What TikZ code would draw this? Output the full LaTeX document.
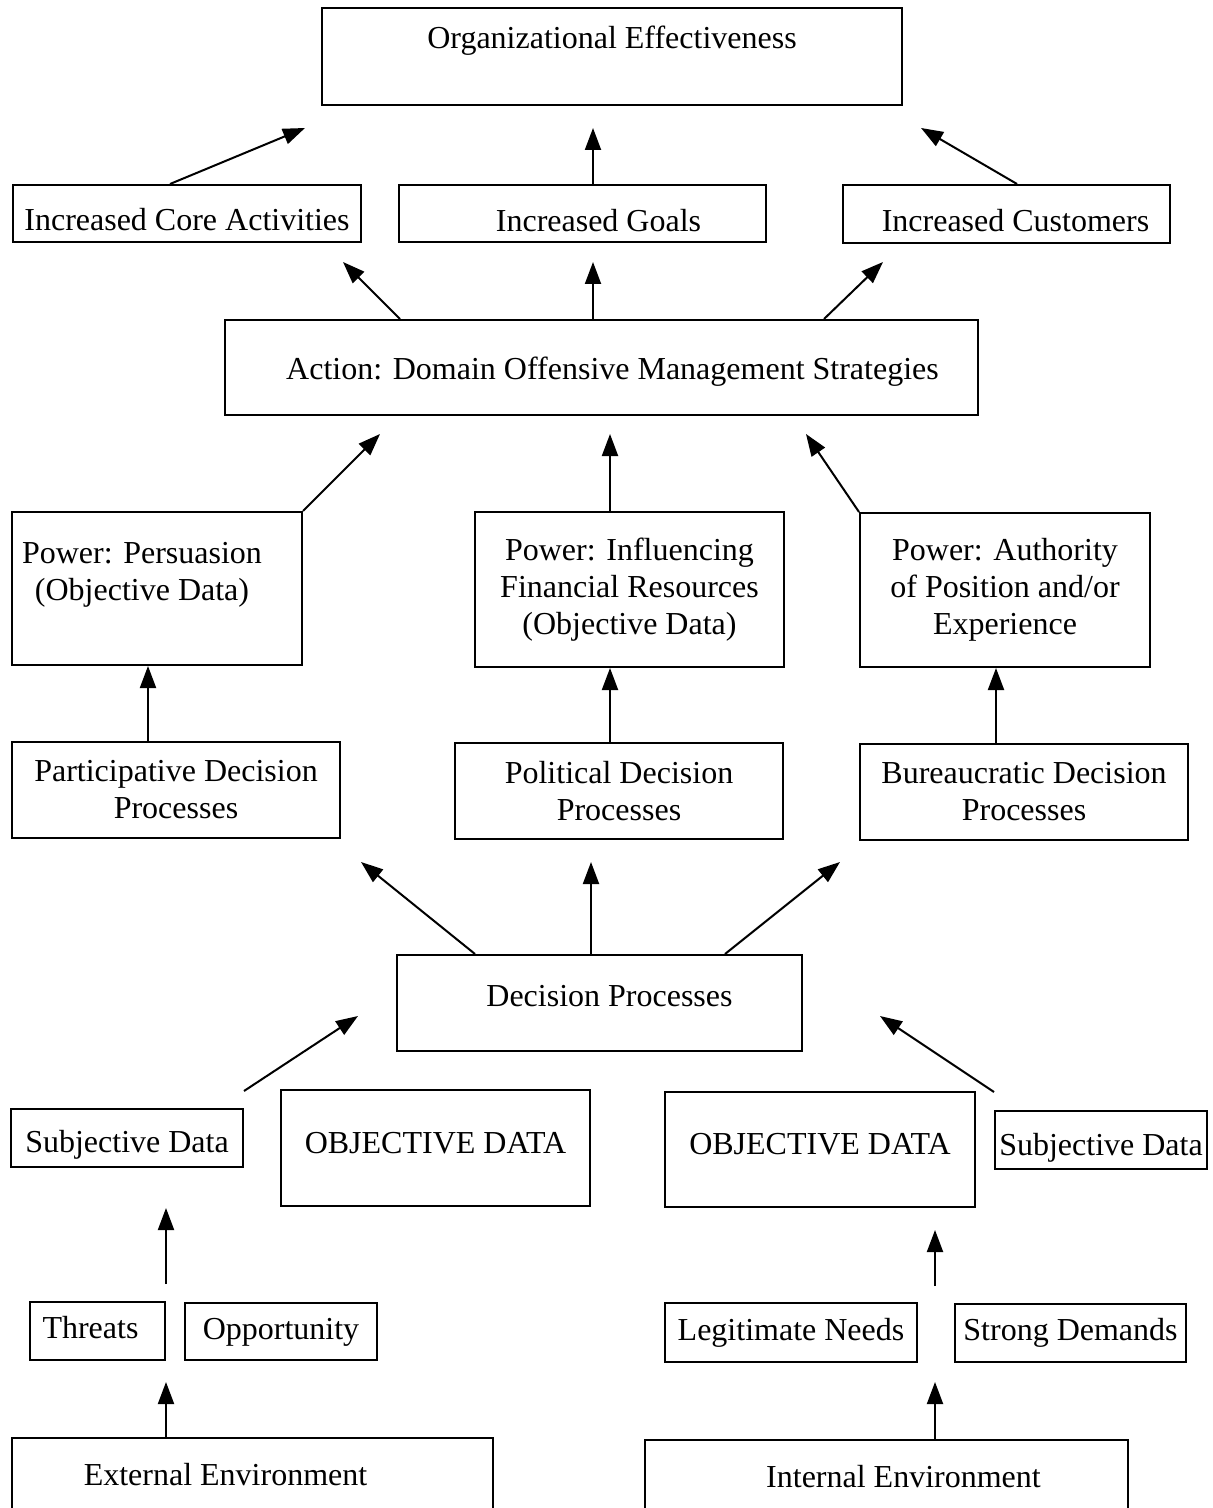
\documentclass[tikz,border=0pt]{standalone}
\usepackage{fontspec}
\setmainfont{Liberation Serif}
\usetikzlibrary{arrows.meta}
\tikzset{
    box/.style={draw, line width=1pt, inner sep=2pt, align=center},
    lift/.style={text height=#1, text depth=0pt},
    nudge/.style={execute at begin node=\hspace*{#1}},
    arr/.style={line width=1pt, -{Triangle[length=11pt, width=8pt]}}
}
\begin{document}
\begin{tikzpicture}[x=0.5pt, y=-0.5pt, font=\fontsize{16}{18.5}\selectfont]
    % 页面范围（底部两个框伸出页面）
    \useasboundingbox (0,0) rectangle (1212,1508);
    \clip (0,0) rectangle (1212,1508);

    % 顶层：组织效能
    \node[box, minimum width=290pt, minimum height=48.5pt] (org) at (612,56.5) {Organizational Effectiveness\\[-5pt]\strut};

    % 三个结果
    \node[box, lift=17.5pt, minimum width=174pt, minimum height=28.5pt] (core) at (187,213.5) {Increased Core Activities};
    \node[box, lift=18.5pt, nudge=16pt, minimum width=183.5pt, minimum height=28.5pt] (goals) at (582.5,213.5) {Increased Goals};
    \node[box, lift=18pt, nudge=9pt, minimum width=163.5pt, minimum height=29pt] (cust) at (1006.5,214) {Increased Customers};

    % 行动
    \node[box, lift=12pt, nudge=11pt, minimum width=376.5pt, minimum height=47.5pt] (action) at (601.5,367.5) {Action: Domain Offensive Management Strategies};

    % 权力
    \node[box, minimum width=145pt, minimum height=76.5pt] (persua) at (157,588.5) {\hspace*{-15pt}Power: Persuasion\\\hspace*{-15pt}(Objective Data)\\[-7pt]\strut};
    \node[box, minimum width=154.5pt, minimum height=77.5pt] (influ) at (629.5,589.5) {Power: Influencing\\Financial Resources\\(Objective Data)};
    \node[box, minimum width=145pt, minimum height=77pt] (auth) at (1005,590) {Power: Authority\\of Position and/or\\Experience};

    % 决策过程类型
    \node[box, minimum width=164pt, minimum height=48pt] (partic) at (176,790) {Participative Decision\\Processes};
    \node[box, minimum width=164pt, minimum height=48pt] (polit) at (619,791) {Political Decision\\Processes};
    \node[box, minimum width=164pt, minimum height=48pt] (bureau) at (1024,792) {Bureaucratic Decision\\Processes};

    \node[box, lift=3.5pt, nudge=10pt, minimum width=202.5pt, minimum height=48pt] (dec) at (599.5,1003) {Decision Processes};

    % 数据
    \node[box, lift=14.5pt, minimum width=116pt, minimum height=29pt] (subjL) at (127,1138) {Subjective Data};
    \node[box, lift=5.5pt, minimum width=154.5pt, minimum height=58pt] (objL) at (435.5,1148) {OBJECTIVE DATA};
    \node[box, lift=5pt, minimum width=155pt, minimum height=57.5pt] (objR) at (820,1149.5) {OBJECTIVE DATA};
    \node[box, lift=15.5pt, minimum width=106pt, minimum height=29pt] (subjR) at (1101,1140) {Subjective Data};

    % 环境因素
    \node[box, lift=7.5pt, nudge=-7pt, minimum width=67.5pt, minimum height=29pt] (threat) at (97.5,1331) {Threats};
    \node[box, lift=8pt, minimum width=96pt, minimum height=28.5pt] (opport) at (281,1331.5) {Opportunity};
    \node[box, lift=8pt, minimum width=126pt, minimum height=29.5pt] (legit) at (791,1332.5) {Legitimate Needs};
    \node[box, lift=7.5pt, minimum width=115.5pt, minimum height=29pt] (strong) at (1070.5,1333) {Strong Demands};

    \node[box, lift=9.5pt, nudge=-27pt, minimum width=240.5pt, minimum height=38pt] (ext) at (252.5,1476) {External Environment};
    \node[box, lift=9.5pt, nudge=17pt, minimum width=241.5pt, minimum height=38pt] (int) at (886.5,1478) {Internal Environment};

    % 箭头终点
    \coordinate (tOrgL) at (305,128);
    \coordinate (tOrgM) at (593,128);
    \coordinate (tOrgR) at (921,128);
    \coordinate (tResL) at (343,262);
    \coordinate (tResM) at (593,262);
    \coordinate (tResR) at (883,262);
    \coordinate (tActL) at (380,434);
    \coordinate (tActM) at (610,434);
    \coordinate (tActR) at (806,434);
    \coordinate (tTypL) at (361,862);
    \coordinate (tTypM) at (591,862);
    \coordinate (tTypR) at (840,862);
    \coordinate (tDecL) at (358,1016);
    \coordinate (tDecR) at (880,1016);
    \coordinate (sDatL) at (166,1284);
    \coordinate (tDatL) at (166,1208);
    \coordinate (sDatR) at (935,1286);
    \coordinate (tDatR) at (935,1230);
    \coordinate (tEnvL) at (166,1382);
    \coordinate (tEnvR) at (935,1382);

    % 结果 -> 效能
    \draw[arr] (170,0 |- core.north) -- (tOrgL);
    \draw[arr] (593,0 |- goals.north) -- (tOrgM);
    \draw[arr] (1017,0 |- cust.north) -- (tOrgR);

    % 行动 -> 结果
    \draw[arr] (400,0 |- action.north) -- (tResL);
    \draw[arr] (593,0 |- action.north) -- (tResM);
    \draw[arr] (824,0 |- action.north) -- (tResR);

    % 权力 -> 行动
    \draw[arr] (persua.north east) -- (tActL);
    \draw[arr] (610,0 |- influ.north) -- (tActM);
    \draw[arr] (auth.north west) -- (tActR);

    % 决策类型 -> 权力
    \draw[arr] (148,0 |- partic.north) -- (148,0 |- persua.south);
    \draw[arr] (610,0 |- polit.north) -- (610,0 |- influ.south);
    \draw[arr] (996,0 |- bureau.north) -- (996,0 |- auth.south);

    % 决策过程 -> 类型
    \draw[arr] (475,0 |- dec.north) -- (tTypL);
    \draw[arr] (591,0 |- dec.north) -- (tTypM);
    \draw[arr] (725,0 |- dec.north) -- (tTypR);

    % 数据 -> 决策过程
    \draw[arr] ([yshift=8.5pt]subjL.north east) -- (tDecL);
    \draw[arr] ([yshift=9pt]subjR.north west) -- (tDecR);

    % 环境 -> 因素 -> 数据
    \draw[arr] (sDatL) -- (tDatL);
    \draw[arr] (sDatR) -- (tDatR);
    \draw[arr] (166,0 |- ext.north) -- (tEnvL);
    \draw[arr] (935,0 |- int.north) -- (tEnvR);
\end{tikzpicture}
\end{document}
